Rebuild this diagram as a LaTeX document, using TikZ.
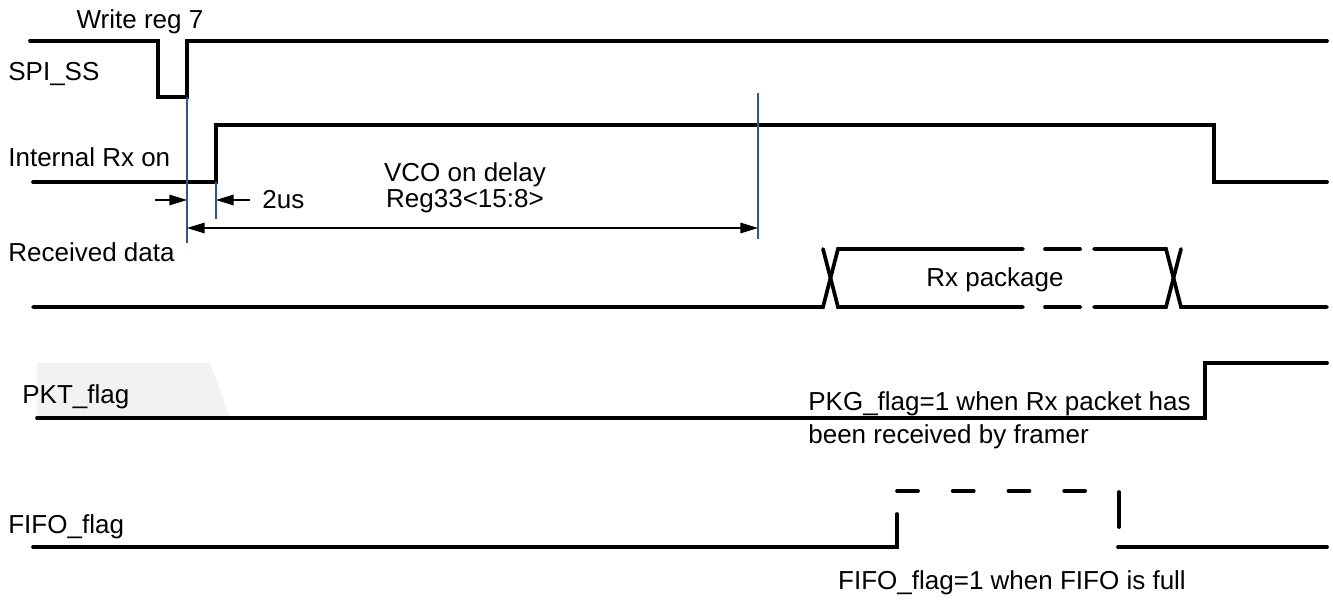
\documentclass[tikz,border=0pt]{standalone}
\usepackage{fontspec}
\setmainfont{Liberation Sans}
\usetikzlibrary{calc,arrows.meta}
\definecolor{markblue}{RGB}{47,85,151}
\definecolor{tabgray}{RGB}{242,242,242}

\begin{document}
\begin{tikzpicture}[x=0.02cm,y=-0.02cm,
    sig/.style={line width=2.1pt, line cap=round, line join=miter},
    marker/.style={draw=markblue, line width=0.7pt},
    dim/.style={line width=0.7pt, -{Triangle[length=10pt,width=6pt]}},
    txt/.style={font=\fontsize{14.8}{17}\selectfont, inner sep=0pt},
    lbl/.style={txt, anchor=west}]

    \useasboundingbox (0,0) rectangle (1333,599);

    % Shaded tab behind PKT_flag
    \fill[tabgray] (37,363) -- (210,363) -- (230,418) -- (37,418) -- cycle;

    % Signal names
    \node[lbl] (ss) at (8,74) {SPI\_SS};
    \node[lbl] (rxon) at (8,157) {Internal Rx on};
    \node[lbl] (rxdata) at (8,252) {Received data};
    \node[lbl] (pkt) at (22,397) {PKT\_flag};
    \node[lbl] (fifo) at (8,527) {FIFO\_flag};

    % SPI_SS
    \draw[sig] (30,41) -- (158,41) -- (158,97) -- (187,97) -- (187,41) -- (1327,41);
    \node[txt] (wr) at (140,22) {Write reg 7};

    % Internal Rx on
    \draw[sig] (33,182) -- (216,182) -- (216,125) -- (1214,125) -- (1214,182) -- (1327,182);

    % Markers
    \coordinate (m1top) at (187,97);
    \coordinate (m1bot) at (187,243);
    \coordinate (m2top) at (216,182);
    \coordinate (m2bot) at (216,219);
    \coordinate (m3top) at (758,93);
    \coordinate (m3bot) at (758,239);
    \draw[marker] (m1top) -- (m1bot);
    \draw[marker] (m2top) -- (m2bot);
    \draw[marker] (m3top) -- (m3bot);

    % 2us
    \draw[dim] (155,200) -- (m1top |- 0,200);
    \draw[dim] (250,200) -- (m2top |- 0,200);
    \node[lbl] (twous) at (262,200) {2us};

    % VCO on delay
    \draw[dim, {Triangle[length=10pt,width=6pt]}-{Triangle[length=10pt,width=6pt]}]
        (m1top |- 0,228) -- (m3top |- 0,228);
    \node[txt] (vco) at (465,175) {VCO on delay};
    \node[txt] (reg) at (465,201) {Reg33<15:8>};

    % Received data
    \draw[sig] (33,307) -- (823,307) -- (838,249) -- (1023,249);
    \draw[sig] (823,249) -- (838,307) -- (1023,307);
    \draw[sig] (1045,249) -- (1080,249);
    \draw[sig] (1045,307) -- (1080,307);
    \draw[sig] (1094,249) -- (1166,249) -- (1181,307) -- (1327,307);
    \draw[sig] (1094,307) -- (1166,307) -- (1181,249);
    \node[txt] (pack) at (995,280) {Rx package};

    % PKT_flag
    \draw[sig] (37,418) -- (1205,418) -- (1205,363) -- (1327,363);
    \node[lbl] (pktnote1) at (808,404) {PKG\_flag=1 when Rx packet has};
    \node[lbl] (pktnote2) at (808,437) {been received by framer};

    % FIFO_flag
    \draw[sig] (33,547) -- (897,547) -- (897,514);
    \draw[sig, dash pattern=on 12pt off 19.7pt] (897,491) -- (1101,491);
    \draw[sig] (1119,492) -- (1119,527);
    \draw[sig] (1118,547) -- (1327,547);
    \node[txt] (fifonote) at (1012,583) {FIFO\_flag=1 when FIFO is full};

\end{tikzpicture}
\end{document}
